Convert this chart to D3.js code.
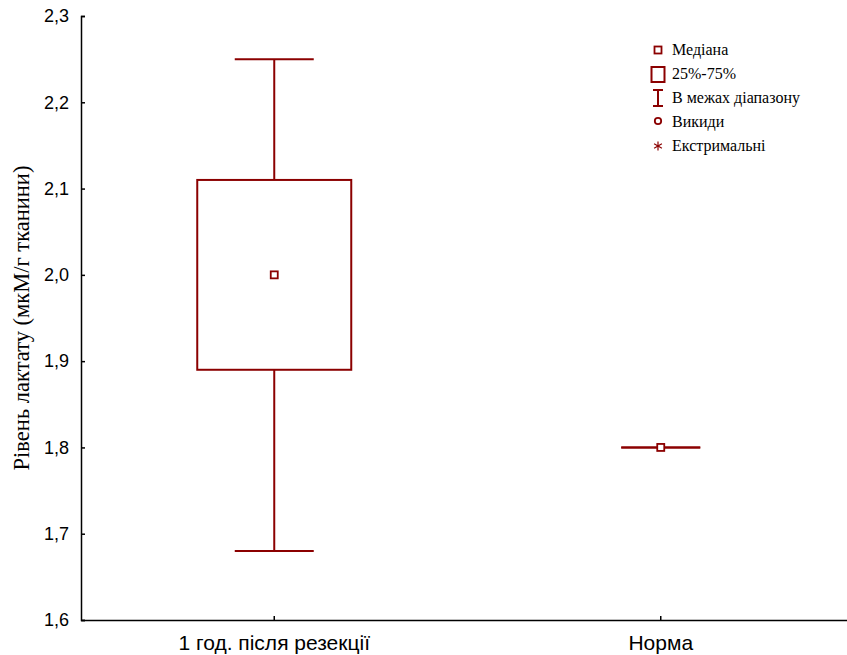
<!DOCTYPE html>
<html>
<head>
<meta charset="utf-8">
<script src="https://cdn.jsdelivr.net/npm/d3@7"></script>
<style>
body { margin: 0; background: #fff; }
</style>
</head>
<body>
<div id="chart"></div>
<script>
var categories = ["1 год. після резекції", "Норма"];
var medians = [2.0, 1.8];
var q1 = [1.89, 1.8];
var q3 = [2.11, 1.8];
var minVals = [1.68, 1.8];
var maxVals = [2.25, 1.8];
var yTicks = [1.6, 1.7, 1.8, 1.9, 2.0, 2.1, 2.2, 2.3];
var legendLabels = ["Медіана", "25%-75%", "В межах діапазону", "Викиди", "Екстримальні"];

var W = 847, H = 655;
var col = "#8b0000";
var margin = {left: 81, top: 16, bottom: 35};

var svg = d3.select("#chart").append("svg").attr("width", W).attr("height", H);

var x = d3.scaleBand().domain(categories).range([margin.left, margin.left + 773]);
var y = d3.scaleLinear().domain([1.6, 2.3]).range([H - margin.bottom, margin.top]);

// axes
var yAxis = d3.axisLeft(y).tickValues(yTicks).tickSizeInner(-4).tickSizeOuter(-4)
    .tickPadding(12).tickFormat(function(d){ return d3.format(".1f")(d).replace(".", ","); });
var gy = svg.append("g").attr("transform", "translate(" + margin.left + ",0)").call(yAxis);
gy.selectAll("text").style("font-family", "Liberation Sans, Arial").style("font-size", "18px").attr("fill", "#000");
gy.selectAll("line,path").attr("stroke", "#000").attr("stroke-width", 1.5);

var xAxis = d3.axisBottom(x).tickSizeInner(-4).tickSizeOuter(0).tickPadding(15);
var gx = svg.append("g").attr("transform", "translate(0," + (H - margin.bottom) + ")").call(xAxis);
gx.selectAll("text").style("font-family", "Liberation Sans, Arial").style("font-size", "21px").attr("fill", "#000");
gx.selectAll("line,path").attr("stroke", "#000").attr("stroke-width", 1.5);

// y title
svg.append("text")
    .attr("transform", "translate(29," + ((margin.top + H - margin.bottom) / 2) + ") rotate(-90)")
    .attr("text-anchor", "middle")
    .style("font-family", "Liberation Serif, Times New Roman")
    .style("font-size", "22.5px")
    .text("Рівень лактату (мкМ/г тканини)");

// boxes
var boxW = 154, capW = 79;
var g = svg.append("g");
categories.forEach(function(c, i) {
    var cx = x(c) + x.bandwidth() / 2;
    g.append("line").attr("x1", cx).attr("x2", cx).attr("y1", y(maxVals[i])).attr("y2", y(q3[i]))
        .attr("stroke", col).attr("stroke-width", 2);
    g.append("line").attr("x1", cx).attr("x2", cx).attr("y1", y(q1[i])).attr("y2", y(minVals[i]))
        .attr("stroke", col).attr("stroke-width", 2);
    g.append("line").attr("x1", cx - capW / 2).attr("x2", cx + capW / 2).attr("y1", y(maxVals[i])).attr("y2", y(maxVals[i]))
        .attr("stroke", col).attr("stroke-width", 2);
    g.append("line").attr("x1", cx - capW / 2).attr("x2", cx + capW / 2).attr("y1", y(minVals[i])).attr("y2", y(minVals[i]))
        .attr("stroke", col).attr("stroke-width", 2);
    if (q3[i] > q1[i]) {
        g.append("rect").attr("x", cx - boxW / 2).attr("y", y(q3[i])).attr("width", boxW)
            .attr("height", y(q1[i]) - y(q3[i])).attr("fill", "none").attr("stroke", col).attr("stroke-width", 2);
    }
    g.append("rect").attr("x", cx - 3.5).attr("y", y(medians[i]) - 3.5).attr("width", 7).attr("height", 7)
        .attr("fill", "#fff").attr("stroke", col).attr("stroke-width", 1.8);
});

// legend
var lx = 658, ly0 = 50, dy = 24;
var leg = svg.append("g");
legendLabels.forEach(function(t, i) {
    var yy = ly0 + i * dy;
    leg.append("text").attr("x", lx + 14).attr("y", yy + 5)
        .style("font-family", "Liberation Serif, Times New Roman").style("font-size", "16px").text(t);
});
leg.append("rect").attr("x", lx - 3.5).attr("y", ly0 - 3.5).attr("width", 7).attr("height", 7)
    .attr("fill", "none").attr("stroke", col).attr("stroke-width", 1.8);
leg.append("rect").attr("x", lx - 6.5).attr("y", ly0 + dy - 7).attr("width", 13).attr("height", 15)
    .attr("fill", "none").attr("stroke", col).attr("stroke-width", 2);
var wy = ly0 + 2 * dy;
leg.append("line").attr("x1", lx).attr("x2", lx).attr("y1", wy - 8).attr("y2", wy + 8).attr("stroke", col).attr("stroke-width", 2);
leg.append("line").attr("x1", lx - 5).attr("x2", lx + 5).attr("y1", wy - 8).attr("y2", wy - 8).attr("stroke", col).attr("stroke-width", 2);
leg.append("line").attr("x1", lx - 5).attr("x2", lx + 5).attr("y1", wy + 8).attr("y2", wy + 8).attr("stroke", col).attr("stroke-width", 2);
leg.append("circle").attr("cx", lx).attr("cy", ly0 + 3 * dy - 1).attr("r", 3.2)
    .attr("fill", "none").attr("stroke", col).attr("stroke-width", 1.8);
var ay = ly0 + 4 * dy;
[0, 60, 120].forEach(function(a) {
    var r = 4.5, rad = a * Math.PI / 180;
    leg.append("line").attr("x1", lx - r * Math.sin(rad)).attr("y1", ay - r * Math.cos(rad))
        .attr("x2", lx + r * Math.sin(rad)).attr("y2", ay + r * Math.cos(rad))
        .attr("stroke", col).attr("stroke-width", 1.2);
});
</script>
</body>
</html>
